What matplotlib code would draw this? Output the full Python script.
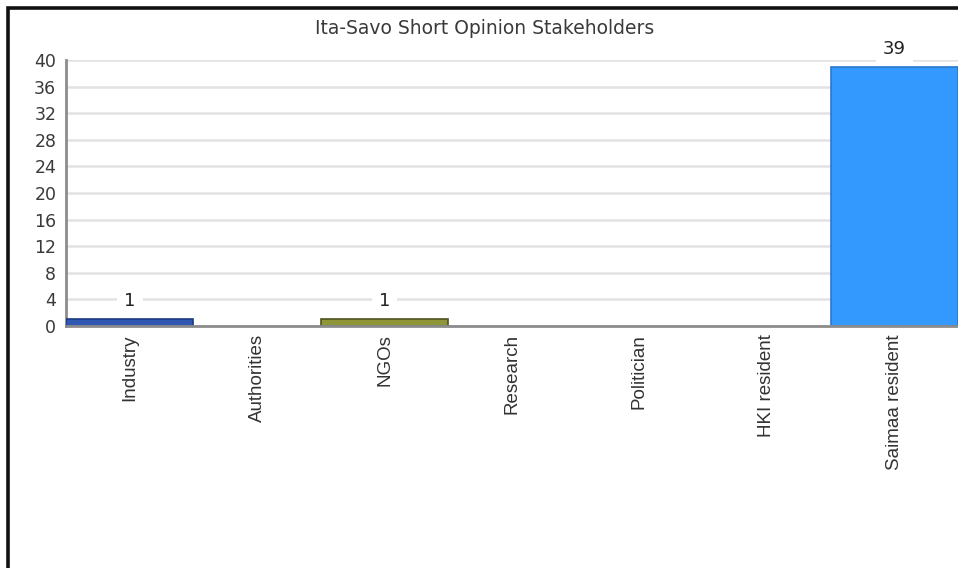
import matplotlib
matplotlib.use("Agg")
import matplotlib.pyplot as plt
from matplotlib.patches import Rectangle

categories = ["Industry", "Authorities", "NGOs", "Research", "Politician",
              "HKI resident", "Saimaa resident"]
counts = [1, 0, 1, 0, 0, 0, 39]
fill_colors = ["#3057b2", "#3057b2", "#8e9638", "#3399ff", "#3399ff",
               "#3399ff", "#3399ff"]
edge_colors = ["#1c3a86", "#1c3a86", "#4f5320", "#2a78cc", "#2a78cc",
               "#2a78cc", "#2a78cc"]
y_ticks = list(range(0, 41, 4))
title = "Ita-Savo Short Opinion Stakeholders"

W, H = 958, 568
fig = plt.figure(figsize=(W / 100, H / 100), dpi=100)
fig.patch.set_facecolor("white")

ax = fig.add_axes([66 / W, 1 - 326 / H, (W - 66) / W, (326 - 60) / H])
ax.set_facecolor("white")

x = list(range(len(categories)))
# empty categories get no outline so nothing shows along the baseline
widths = [1.2 if v > 0 else 0 for v in counts]
ax.bar(x, counts, width=1.0, color=fill_colors,
       edgecolor=edge_colors, linewidth=widths, zorder=3)

ax.set_xlim(-0.5, len(categories) - 0.5)
ax.set_ylim(0, 40)
ax.set_yticks(y_ticks)
ax.set_yticklabels([str(v) for v in y_ticks], fontsize=12.5,
                   color="#3a3a3a", family="DejaVu Sans")
ax.set_xticks(x)
ax.set_xticklabels(categories, rotation=90, fontsize=13.5, color="#333333",
                   family="Liberation Sans")
ax.tick_params(axis="y", length=0, pad=7)
ax.tick_params(axis="x", length=0, pad=6)

ax.grid(axis="y", color="#e2e2e2", linewidth=1.8, zorder=0)
ax.set_axisbelow(True)
for side in ("top", "right"):
    ax.spines[side].set_visible(False)
ax.spines["left"].set_color("#8c8c8c")
ax.spines["left"].set_linewidth(2)
ax.spines["bottom"].set_color("#8c8c8c")
ax.spines["bottom"].set_linewidth(2)
ax.spines["bottom"].set_zorder(4)

for xi, v in zip(x, counts):
    if v > 0:
        ax.annotate(str(v), (xi, v), xytext=(0, 13), textcoords="offset points",
                    ha="center", va="center", fontsize=13, color="#222222",
                    family="DejaVu Sans", fontweight="medium", zorder=4,
                    bbox=dict(boxstyle="square,pad=0.4", fc="white",
                              ec="none"))

fig.text(485 / W, 1 - 28 / H, title, ha="center", va="center",
         fontsize=13.5, color="#3a3a3a", family="DejaVu Sans")

# outer frame (left and top edges fall inside the canvas)
frame = Rectangle((7.5 / W, -0.05), 1.2, 1 - 7.5 / H + 0.05,
                  transform=fig.transFigure, fill=False,
                  edgecolor="#111111", linewidth=2.6, zorder=10)
fig.patches.append(frame)

fig.savefig("out.png", dpi=100)
